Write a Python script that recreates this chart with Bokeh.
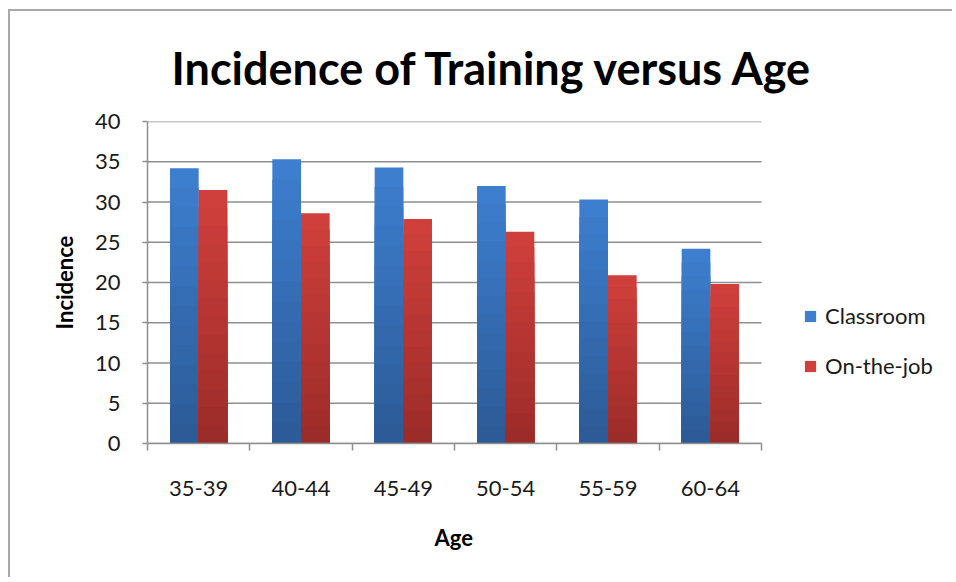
from bokeh.plotting import figure
from bokeh.models import (ColumnDataSource, Range1d, FixedTicker, Legend, LegendItem, Title)
from bokeh.embed import file_html
from bokeh.resources import INLINE

categories = ["35-39", "40-44", "45-49", "50-54", "55-59", "60-64"]
classroom = [34.2, 35.3, 34.3, 32.0, 30.3, 24.2]
on_the_job = [31.5, 28.6, 27.9, 26.3, 20.9, 19.8]
y_ticks = [0, 5, 10, 15, 20, 25, 30, 35, 40]

FONT = "Lato"
GRID = "#8e8e8e"
NC = len(categories)
centers = [i + 0.5 for i in range(NC)]
BW = 0.28
W, H = 944, 568
LEFT, RIGHT = 137, 0
PLOT_PX = 614  # pixel width of the category area
x_end = NC * (W - LEFT - RIGHT) / PLOT_PX

p = figure(width=W, height=H, output_backend="svg", toolbar_location=None,
           x_range=Range1d(0, x_end), y_range=Range1d(0, 40),
           min_border_left=LEFT, min_border_right=RIGHT, min_border_top=110, min_border_bottom=136,
           title="Incidence of Training versus Age")
p.styles = {"border-left": "2px solid #a8a8a8", "border-top": "2px solid #a8a8a8",
            "margin-left": "8px", "margin-top": "9px"}
p.outline_line_color = None
p.background_fill_color = "white"
p.border_fill_color = "white"

p.title.text_font = FONT
p.title.text_font_style = "bold"
p.title.text_font_size = "45px"
p.title.text_color = "black"
p.title.align = "left"
p.title.offset = 24
p.title.standoff = 54

# horizontal grid lines, limited to the category area
p.segment(x0=[0] * len(y_ticks), x1=[NC] * len(y_ticks), y0=y_ticks, y1=y_ticks,
          line_color=GRID, line_width=1.5)

def hexmix(c1, c2, t):
    a = [int(c1[i:i+2], 16) for i in (1, 3, 5)]
    b = [int(c2[i:i+2], 16) for i in (1, 3, 5)]
    return "#%02x%02x%02x" % tuple(round(a[j] + (b[j] - a[j]) * t) for j in range(3))

N = 14
series = [
    ("Classroom", classroom, -0.14, "#3d7ece", "#2c5b97"),
    ("On-the-job", on_the_job, 0.14, "#cf3f3b", "#9c2c29"),
]
legend_items = []
for name, vals, off, ctop, cbot in series:
    first = None
    for k in range(N):
        frac = (N - k) / N
        src = ColumnDataSource(dict(x=[c + off for c in centers], top=[v * frac for v in vals]))
        col = hexmix(ctop, cbot, k / (N - 1))
        r = p.vbar(x="x", top="top", bottom=0, width=BW, source=src,
                   fill_color=col, line_color=None)
        if first is None:
            first = r
    legend_items.append(LegendItem(label=name, renderers=[first]))

# axes
xa = p.xaxis[0]
xa.bounds = (0, NC)
xa.ticker = FixedTicker(ticks=centers, minor_ticks=list(range(NC + 1)))
xa.major_label_overrides = {c: lab for c, lab in zip(centers, categories)}
xa.major_tick_out = 0
xa.major_tick_in = 0
xa.minor_tick_out = 7
xa.minor_tick_in = 0
xa.minor_tick_line_color = GRID
xa.minor_tick_line_width = 1.5
xa.axis_line_color = GRID
xa.axis_line_width = 1.5
xa.major_label_text_font = FONT
xa.major_label_text_font_size = "22px"
xa.major_label_text_color = "#1a1a1a"
xa.major_label_standoff = 30

xlabel = Title(text="Age", align="left", offset=287, standoff=46,
               text_font=FONT, text_font_style="bold", text_font_size="22px",
               text_color="black")
p.add_layout(xlabel, "below")

ya = p.yaxis[0]
ya.ticker = FixedTicker(ticks=y_ticks, minor_ticks=[])
ya.major_tick_out = 5
ya.major_tick_in = 0
ya.major_tick_line_color = GRID
ya.major_tick_line_width = 1.5
ya.axis_line_color = GRID
ya.axis_line_width = 1.5
ya.major_label_text_font = FONT
ya.major_label_text_font_size = "22px"
ya.major_label_text_color = "#1a1a1a"
ya.major_label_standoff = 22
ya.axis_label = "Incidence"
ya.axis_label_text_font = FONT
ya.axis_label_text_font_style = "bold"
ya.axis_label_text_font_size = "22px"
ya.axis_label_text_color = "black"
ya.axis_label_standoff = 14

p.xgrid.grid_line_color = None
p.ygrid.grid_line_color = None

legend = Legend(items=legend_items, location=(656, 64), orientation="vertical",
                glyph_width=14, glyph_height=14, label_height=20, spacing=23,
                label_standoff=8, margin=0, padding=0,
                border_line_color=None, background_fill_alpha=0,
                label_text_font=FONT, label_text_font_size="22px", label_text_color="#1a1a1a")
p.add_layout(legend)

open("out.html", "w").write(file_html(p, INLINE))
